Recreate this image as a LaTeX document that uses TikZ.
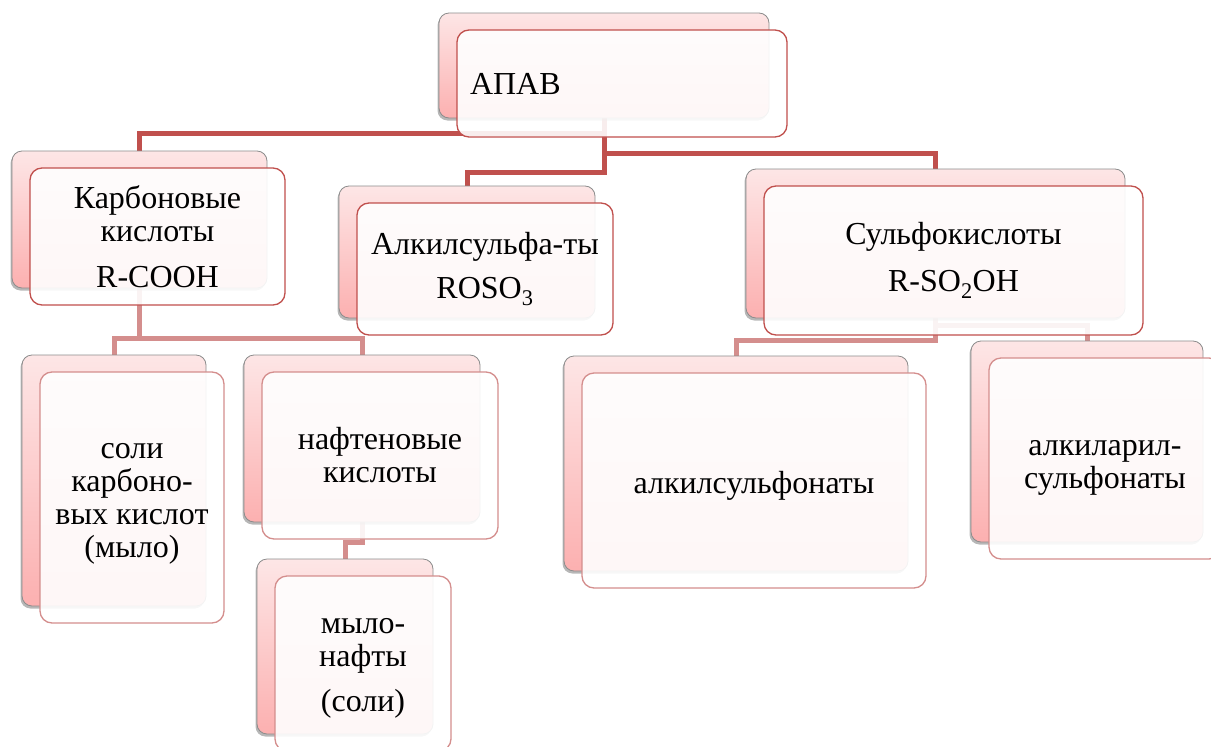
\documentclass[tikz,border=0pt]{standalone}
\usepackage{fontspec}
\setmainfont{Liberation Serif}
\newfontfamily\tnrfont{Liberation Serif}
\usetikzlibrary{shadows}
\pgfdeclarelayer{background}
\pgfsetlayers{background,main}
\definecolor{dred}{HTML}{C0504D}
\definecolor{lred}{HTML}{D48E8D}
\definecolor{pinktop}{HTML}{FDE6E6}
\definecolor{pinkbot}{HTML}{FCB0B0}
\definecolor{backline}{HTML}{8C8C8C}
\newcommand{\boxpair}[7]{%
  \node[backbox, minimum width=#4pt, minimum height=#5pt] (#1B) at (#2-18,#3-17) {};
  \node[frontbox=#6, minimum width=#4pt, minimum height=#5pt] (#1) at (#2,#3) {#7};}
\newcommand{\upstrut}[1]{\rule{0pt}{#1}}
\begin{document}
\begin{tikzpicture}[x=1pt,y=-1pt,
  backbox/.style={draw=backline, line width=0.8pt, rounded corners=10pt,
    top color=pinktop, bottom color=pinkbot, inner sep=0pt,
    drop shadow={shadow xshift=-1.5pt, shadow yshift=-2.5pt, opacity=0.4, fill=black!70}},
  frontbox/.style={draw=#1, line width=1.3pt, rounded corners=12pt, fill=white,
    fill opacity=0.9, text opacity=1, draw opacity=1, align=center, inner sep=0pt,
    font=\tnrfont\fontsize{32}{33}\selectfont},
  conn/.style={line width=5pt, draw=#1}
]
\useasboundingbox (0,0) rectangle (1211,747);

% top
\node[backbox, minimum width=330pt, minimum height=105pt] (apavB) at (604,65.5) {};
\node[frontbox=dred, minimum height=107pt, text width=304pt, inner xsep=13pt, align=left] (apav) at (622,83.5) {АПАВ};

\boxpair{karb}{157.5}{236.5}{255}{137}{dred}{Карбоновые\\кислоты\\[13pt]R-COOH}
\boxpair{alks}{485}{269}{256}{132}{dred}{Алкилсульфа-ты\\[11pt]ROSO\textsubscript{3}}
\boxpair{sulf}{953.5}{260.5}{379}{149}{dred}{Сульфокислоты\\[14pt]R-SO\textsubscript{2}OH}
\boxpair{soli}{132}{497.5}{184}{251}{lred}{\upstrut{27pt}соли\\карбоно-\\вых кислот\\(мыло)}
\boxpair{naft}{380}{455.5}{236}{167}{lred}{нафтеновые\\кислоты}
\boxpair{mylo}{363}{663.5}{176}{175}{lred}{\upstrut{25pt}мыло-\\нафты\\[12pt](соли)}
\boxpair{alsf}{754}{480.5}{344}{215}{lred}{\upstrut{32pt}алкилсульфонаты}
\boxpair{aryl}{1105}{458.5}{232}{201}{lred}{\upstrut{33pt}алкиларил-\\сульфонаты}

\begin{pgfonlayer}{background}
\coordinate (h1) at (0,133);
\coordinate (h2) at (0,153);
\coordinate (h3) at (0,172);
\coordinate (h4) at (0,338);
\coordinate (h5) at (0,542);
\coordinate (h6) at (0,340);
\coordinate (h7) at (0,325);
\draw[conn=dred] (apavB.south) -- (apavB.south |- h1) -- (karbB.north |- h1) -- (karbB.north);
\draw[conn=dred] (apavB.south) -- (apavB.south |- h3) -- (alksB.north |- h3) -- (alksB.north);
\draw[conn=dred] (apavB.south) -- (apavB.south |- h2) -- (sulfB.north |- h2) -- (sulfB.north);
\draw[conn=lred] (karbB.south) -- (karbB.south |- h4) -- (soliB.north |- h4) -- (soliB.north);
\draw[conn=lred] (karbB.south) -- (karbB.south |- h4) -- (naftB.north |- h4) -- (naftB.north);
\draw[conn=lred] (naftB.south) -- (naftB.south |- h5) -- (myloB.north |- h5) -- (myloB.north);
\draw[conn=lred] (sulfB.south) -- (sulfB.south |- h6) -- (alsfB.north |- h6) -- (alsfB.north);
\draw[conn=lred] (sulfB.south) -- (sulfB.south |- h7) -- (arylB.north |- h7) -- (arylB.north);
\end{pgfonlayer}
\end{tikzpicture}
\end{document}
